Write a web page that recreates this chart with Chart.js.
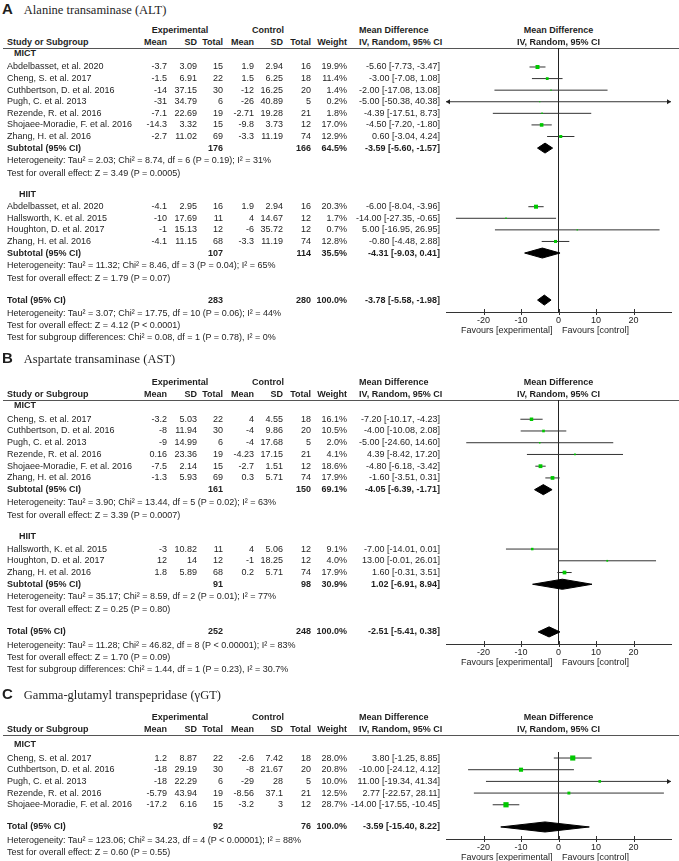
<!DOCTYPE html>
<html>
<head>
<meta charset="utf-8">
<script src="https://cdn.jsdelivr.net/npm/chart.js@4.4.1/dist/chart.umd.min.js"></script>
<style>
html,body{margin:0;padding:0;background:#fff;}
#page{position:relative;width:679px;height:861px;overflow:hidden;font-family:"Liberation Sans",Arial,sans-serif;font-size:9px;color:#1e1e1e;}
.t{position:absolute;white-space:nowrap;line-height:11px;height:11px;}
.r{text-align:right;width:120px;}
.c{text-align:center;width:200px;}
.b{font-weight:bold;}
.hl{position:absolute;left:3px;right:0;height:1px;background:#555;}
.ttl{position:absolute;left:2px;white-space:nowrap;line-height:18px;height:18px;}
.ttl b{font:bold 15px "Liberation Sans",Arial,sans-serif;}
.ttl span{font:12.5px "Liberation Serif","Times New Roman",serif;margin-left:11px;}
canvas{position:absolute;}
</style>
</head>
<body>
<div id="page"></div>
<script>
// ---------- A: ALT ----------
const altGroups = ["MICT", "HIIT"];
const altGroupOf = [0, 0, 0, 0, 0, 0, 0, 1, 1, 1, 1];
const altStudies = ["Abdelbasset, et al. 2020", "Cheng, S. et al. 2017", "Cuthbertson, D. et al. 2016", "Pugh, C. et al. 2013", "Rezende, R. et al. 2016", "Shojaee-Moradie, F. et al. 2016", "Zhang, H. et al. 2016",
  "Abdelbasset, et al. 2020", "Hallsworth, K. et al. 2015", "Houghton, D. et al. 2017", "Zhang, H. et al. 2016"];
const altExpMean = [-3.7, -1.5, -14, -31, -7.1, -14.3, -2.7, -4.1, -10, -1, -4.1];
const altExpSD = [3.09, 6.91, 37.15, 34.79, 22.69, 3.32, 11.02, 2.95, 17.69, 15.13, 11.15];
const altExpN = [15, 22, 30, 6, 19, 15, 69, 16, 11, 12, 68];
const altCtlMean = [1.9, 1.5, -12, -26, -2.71, -9.8, -3.3, 1.9, 4, -6, -3.3];
const altCtlSD = [2.94, 6.25, 16.25, 40.89, 19.28, 3.73, 11.19, 2.94, 14.67, 35.72, 11.19];
const altCtlN = [16, 18, 20, 5, 21, 12, 74, 16, 12, 12, 74];
const altWeight = [19.9, 11.4, 1.4, 0.2, 1.8, 17.0, 12.9, 20.3, 1.7, 0.7, 12.8];
const altMD = [-5.60, -3.00, -2.00, -5.00, -4.39, -4.50, 0.60, -6.00, -14.00, 5.00, -0.80];
const altLow = [-7.73, -7.08, -17.08, -50.38, -17.51, -7.20, -3.04, -8.04, -27.35, -16.95, -4.48];
const altHigh = [-3.47, 1.08, 13.08, 40.38, 8.73, -1.80, 4.24, -3.96, -0.65, 26.95, 2.88];
const altSubExpN = [176, 107];
const altSubCtlN = [166, 114];
const altSubWeight = [64.5, 35.5];
const altSubMD = [-3.59, -4.31];
const altSubLow = [-5.60, -9.03];
const altSubHigh = [-1.57, 0.41];
const altSubHet = ["Heterogeneity: Tau² = 2.03; Chi² = 8.74, df = 6 (P = 0.19); I² = 31%", "Heterogeneity: Tau² = 11.32; Chi² = 8.46, df = 3 (P = 0.04); I² = 65%"];
const altSubTest = ["Test for overall effect: Z = 3.49 (P = 0.0005)", "Test for overall effect: Z = 1.79 (P = 0.07)"];
const altTotal = [283, 280, 100.0];
const altTotalCI = [-3.78, -5.58, -1.98];
const altTotalNotes = ["Heterogeneity: Tau² = 3.07; Chi² = 17.75, df = 10 (P = 0.06); I² = 44%", "Test for overall effect: Z = 4.12 (P < 0.0001)", "Test for subgroup differences: Chi² = 0.08, df = 1 (P = 0.78), I² = 0%"];

// ---------- B: AST ----------
const astGroups = ["MICT", "HIIT"];
const astGroupOf = [0, 0, 0, 0, 0, 0, 1, 1, 1];
const astStudies = ["Cheng, S. et al. 2017", "Cuthbertson, D. et al. 2016", "Pugh, C. et al. 2013", "Rezende, R. et al. 2016", "Shojaee-Moradie, F. et al. 2016", "Zhang, H. et al. 2016",
  "Hallsworth, K. et al. 2015", "Houghton, D. et al. 2017", "Zhang, H. et al. 2016"];
const astExpMean = [-3.2, -8, -9, 0.16, -7.5, -1.3, -3, 12, 1.8];
const astExpSD = [5.03, 11.94, 14.99, 23.36, 2.14, 5.93, 10.82, 14, 5.89];
const astExpN = [22, 30, 6, 19, 15, 69, 11, 12, 68];
const astCtlMean = [4, -4, -4, -4.23, -2.7, 0.3, 4, -1, 0.2];
const astCtlSD = [4.55, 9.86, 17.68, 17.15, 1.51, 5.71, 5.06, 18.25, 5.71];
const astCtlN = [18, 20, 5, 21, 12, 74, 12, 12, 74];
const astWeight = [16.1, 10.5, 2.0, 4.1, 18.6, 17.9, 9.1, 4.0, 17.9];
const astMD = [-7.20, -4.00, -5.00, 4.39, -4.80, -1.60, -7.00, 13.00, 1.60];
const astLow = [-10.17, -10.08, -24.60, -8.42, -6.18, -3.51, -14.01, -0.01, -0.31];
const astHigh = [-4.23, 2.08, 14.60, 17.20, -3.42, 0.31, 0.01, 26.01, 3.51];
const astSubExpN = [161, 91];
const astSubCtlN = [150, 98];
const astSubWeight = [69.1, 30.9];
const astSubMD = [-4.05, 1.02];
const astSubLow = [-6.39, -6.91];
const astSubHigh = [-1.71, 8.94];
const astSubHet = ["Heterogeneity: Tau² = 3.90; Chi² = 13.44, df = 5 (P = 0.02); I² = 63%", "Heterogeneity: Tau² = 35.17; Chi² = 8.59, df = 2 (P = 0.01); I² = 77%"];
const astSubTest = ["Test for overall effect: Z = 3.39 (P = 0.0007)", "Test for overall effect: Z = 0.25 (P = 0.80)"];
const astTotal = [252, 248, 100.0];
const astTotalCI = [-2.51, -5.41, 0.38];
const astTotalNotes = ["Heterogeneity: Tau² = 11.28; Chi² = 46.82, df = 8 (P < 0.00001); I² = 83%", "Test for overall effect: Z = 1.70 (P = 0.09)", "Test for subgroup differences: Chi² = 1.44, df = 1 (P = 0.23), I² = 30.7%"];

// ---------- C: gamma GT ----------
const ggtGroups = ["MICT"];
const ggtGroupOf = [0, 0, 0, 0, 0];
const ggtStudies = ["Cheng, S. et al. 2017", "Cuthbertson, D. et al. 2016", "Pugh, C. et al. 2013", "Rezende, R. et al. 2016", "Shojaee-Moradie, F. et al. 2016"];
const ggtExpMean = [1.2, -18, -18, -5.79, -17.2];
const ggtExpSD = [8.87, 29.19, 22.29, 43.94, 6.16];
const ggtExpN = [22, 30, 6, 19, 15];
const ggtCtlMean = [-2.6, -8, -29, -8.56, -3.2];
const ggtCtlSD = [7.42, 21.67, 28, 37.1, 3];
const ggtCtlN = [18, 20, 5, 21, 12];
const ggtWeight = [28.0, 20.8, 10.0, 12.5, 28.7];
const ggtMD = [3.80, -10.00, 11.00, 2.77, -14.00];
const ggtLow = [-1.25, -24.12, -19.34, -22.57, -17.55];
const ggtHigh = [8.85, 4.12, 41.34, 28.11, -10.45];
const ggtTotal = [92, 76, 100.0];
const ggtTotalCI = [-3.59, -15.40, 8.22];
const ggtTotalNotes = ["Heterogeneity: Tau² = 123.06; Chi² = 34.23, df = 4 (P < 0.00001); I² = 88%", "Test for overall effect: Z = 0.60 (P = 0.55)"];

// axis
const axisRange = [-30, 30];
const axisTicks = [-20, -10, 0, 10, 20];

// ---------- layout ----------
const col = {name: 7, groupR: 36, expMean: 167, expSD: 197, expN: 223, ctlMean: 254, ctlSD: 283, ctlN: 311, weight: 347, ci: 440, mdHead: 359, expHead: 180, ctlHead: 268};
const page = document.getElementById('page');

function text(x, y, str, bold, align) {
  const d = document.createElement('div');
  d.className = 't' + (bold ? ' b' : '') + (align === 'r' ? ' r' : align === 'c' ? ' c' : '');
  d.style.top = (y - 5.5) + 'px';
  d.style.left = (align === 'r' ? x - 120 : align === 'c' ? x - 100 : x) + 'px';
  d.textContent = str;
  page.appendChild(d);
}
const fmtW = w => w.toFixed(1) + '%';
const fmtCI = (m, l, h) => m.toFixed(2) + ' [' + l.toFixed(2) + ', ' + h.toFixed(2) + ']';
const boxSide = w => 1.2 + 0.14 * w;

function layoutRows(cfg) {
  const rows = [];
  let s = cfg.labelSlot;
  cfg.groups.forEach((name, g) => {
    if (g > 0) s += 1.85;
    rows.push({kind: 'group', slot: s, g});
    s += g === 0 ? cfg.firstGap : 1.05;
    let first = true;
    cfg.groupOf.forEach((gg, i) => {
      if (gg !== g) return;
      if (!first) s += 1;
      first = false;
      rows.push({kind: 'study', slot: s, i});
    });
    if (cfg.sub) {
      s += 1; rows.push({kind: 'sub', slot: s, g});
      s += 1.08; rows.push({kind: 'note', slot: s, text: cfg.sub.het[g]});
      s += 1.08; rows.push({kind: 'note', slot: s, text: cfg.sub.test[g]});
    }
  });
  s += 1.9;
  rows.push({kind: 'total', slot: s});
  const axisSlot = s + 1.03;
  cfg.totalNotes.forEach((t, k) => { s += k === 0 ? 1.14 : 1.05; rows.push({kind: 'note', slot: s, text: t}); });
  return {rows, axisSlot};
}

function arrow(ctx, x, y, dir) {
  ctx.beginPath();
  ctx.moveTo(x, y);
  ctx.lineTo(x - dir * 4, y - 2.5);
  ctx.lineTo(x - dir * 4, y + 2.5);
  ctx.closePath();
  ctx.fill();
}

function makePanel(cfg) {
  const {rows, axisSlot} = layoutRows(cfg);
  const studyRows = rows.filter(r => r.kind === 'study');
  const padTop = 3, axisH = 14;
  const plotH = Math.round(axisSlot * cfg.pitch);

  // title + header
  const tt = document.createElement('div');
  tt.className = 'ttl';
  tt.style.top = (cfg.titleY - 9) + 'px';
  tt.innerHTML = '<b>' + cfg.letter + '</b><span>' + cfg.title + '</span>';
  page.appendChild(tt);
  const h1 = cfg.lineY - 17.5, h2 = cfg.lineY - 5.5;
  text(col.expHead, h1, 'Experimental', true, 'c');
  text(col.ctlHead, h1, 'Control', true, 'c');
  text(col.mdHead, h1, 'Mean Difference', true);
  text(col.name, h2, 'Study or Subgroup', true);
  text(col.expMean, h2, 'Mean', true, 'r');
  text(col.expSD, h2, 'SD', true, 'r');
  text(col.expN, h2, 'Total', true, 'r');
  text(col.ctlMean, h2, 'Mean', true, 'r');
  text(col.ctlSD, h2, 'SD', true, 'r');
  text(col.ctlN, h2, 'Total', true, 'r');
  text(col.weight, h2, 'Weight', true, 'r');
  text(col.mdHead, h2, 'IV, Random, 95% CI', true);
  const hl = document.createElement('div');
  hl.className = 'hl';
  hl.style.top = cfg.lineY + 'px';
  page.appendChild(hl);

  // chart
  const canvas = document.createElement('canvas');
  canvas.width = 249;
  canvas.height = padTop + plotH + axisH;
  canvas.style.left = '430px';
  canvas.style.top = (cfg.lineY - padTop) + 'px';
  page.appendChild(canvas);

  const clamp = v => Math.min(axisRange[1], Math.max(axisRange[0], v));
  const ciData = [];
  studyRows.forEach(r => {
    ciData.push({x: clamp(cfg.low[r.i]), y: r.slot}, {x: clamp(cfg.high[r.i]), y: r.slot}, {x: null, y: null});
  });
  const sums = [];
  rows.forEach(r => {
    if (r.kind === 'sub') sums.push([cfg.sub.md[r.g], cfg.sub.low[r.g], cfg.sub.high[r.g], r.slot]);
    if (r.kind === 'total') sums.push([cfg.totalCI[0], cfg.totalCI[1], cfg.totalCI[2], r.slot]);
  });
  const dh = 0.43;
  const datasets = [{
    data: studyRows.map(r => ({x: cfg.md[r.i], y: r.slot, w: cfg.weight[r.i]})),
    pointStyle: 'rect',
    pointRadius: c => boxSide(c.raw.w) / Math.SQRT2,
    backgroundColor: '#00c800',
    borderWidth: 0,
    clip: false
  }];
  sums.forEach(([m, l, h, s]) => {
    datasets.push({
      data: [{x: l, y: s}, {x: m, y: s - dh}, {x: h, y: s}, {x: m, y: s + dh}, {x: l, y: s}],
      showLine: true, fill: 'shape', pointRadius: 0,
      borderColor: '#000', backgroundColor: '#000', borderWidth: 1, clip: false
    });
  });
  datasets.push({
    data: ciData, showLine: true, pointRadius: 0, spanGaps: false,
    borderColor: '#333', borderWidth: 1, clip: false
  });
  const zeroStart = cfg.zeroFromFirst ? studyRows[0].slot - 0.5 : 0;
  datasets.push({
    data: [{x: 0, y: zeroStart}, {x: 0, y: axisSlot}],
    showLine: true, pointRadius: 0, borderColor: '#222', borderWidth: 1, clip: false
  });

  const marks = {
    id: 'marks',
    afterDraw(ch) {
      const ctx = ch.ctx, xs = ch.scales.x, ys = ch.scales.y;
      const ay = ch.chartArea.bottom;
      ctx.save();
      ctx.strokeStyle = '#333';
      ctx.lineWidth = 1;
      xs.ticks.forEach(t => {
        const px = Math.round(xs.getPixelForValue(t.value)) + 0.5;
        ctx.beginPath();
        ctx.moveTo(px, ay - 3);
        ctx.lineTo(px, ay + 3);
        ctx.stroke();
      });
      ctx.fillStyle = '#222';
      studyRows.forEach(r => {
        const py = ys.getPixelForValue(r.slot);
        if (cfg.low[r.i] < axisRange[0]) arrow(ctx, xs.getPixelForValue(axisRange[0]), py, -1);
        if (cfg.high[r.i] > axisRange[1]) arrow(ctx, xs.getPixelForValue(axisRange[1]), py, 1);
      });
      ctx.restore();
    }
  };

  const chart = new Chart(canvas, {
    type: 'scatter',
    data: {datasets},
    options: {
      responsive: false,
      animation: false,
      events: [],
      layout: {padding: {left: 16, right: 8, top: padTop, bottom: 0}, autoPadding: false},
      plugins: {legend: {display: false}, tooltip: {enabled: false}},
      scales: {
        x: {
          type: 'linear', min: axisRange[0], max: axisRange[1],
          afterBuildTicks: sc => { sc.ticks = axisTicks.map(v => ({value: v})); },
          afterFit: sc => { sc.height = axisH; },
          grid: {display: false, drawTicks: false},
          border: {display: true, color: '#333', width: 1},
          ticks: {color: '#222', font: {family: 'Liberation Sans', size: 9}, padding: 3, maxRotation: 0, autoSkip: false}
        },
        y: {type: 'linear', reverse: true, min: 0, max: axisSlot, display: false}
      }
    },
    plugins: [marks]
  });

  const top = cfg.lineY - padTop;
  const Y = s => top + chart.scales.y.getPixelForValue(s);
  const zeroX = 430 + chart.scales.x.getPixelForValue(0);
  const axisY = top + chart.chartArea.bottom;

  text(zeroX, h1, 'Mean Difference', true, 'c');
  text(zeroX, h2, 'IV, Random, 95% CI', true, 'c');
  text(zeroX - 6, axisY + 18.5, 'Favours [experimental]', false, 'r');
  text(zeroX + 3.5, axisY + 18.5, 'Favours [control]', false);

  rows.forEach(r => {
    const y = Y(r.slot);
    if (r.kind === 'group') {
      text(col.groupR, y, cfg.groups[r.g], true, 'r');
    } else if (r.kind === 'study') {
      const i = r.i;
      text(col.name, y, cfg.studies[i]);
      text(col.expMean, y, String(cfg.expMean[i]), false, 'r');
      text(col.expSD, y, String(cfg.expSD[i]), false, 'r');
      text(col.expN, y, String(cfg.expN[i]), false, 'r');
      text(col.ctlMean, y, String(cfg.ctlMean[i]), false, 'r');
      text(col.ctlSD, y, String(cfg.ctlSD[i]), false, 'r');
      text(col.ctlN, y, String(cfg.ctlN[i]), false, 'r');
      text(col.weight, y, fmtW(cfg.weight[i]), false, 'r');
      text(col.ci, y, fmtCI(cfg.md[i], cfg.low[i], cfg.high[i]), false, 'r');
    } else if (r.kind === 'sub') {
      const g = r.g;
      text(col.name, y, 'Subtotal (95% CI)', true);
      text(col.expN, y, String(cfg.sub.expN[g]), true, 'r');
      text(col.ctlN, y, String(cfg.sub.ctlN[g]), true, 'r');
      text(col.weight, y, fmtW(cfg.sub.weight[g]), true, 'r');
      text(col.ci, y, fmtCI(cfg.sub.md[g], cfg.sub.low[g], cfg.sub.high[g]), true, 'r');
    } else if (r.kind === 'total') {
      text(col.name, y, 'Total (95% CI)', true);
      text(col.expN, y, String(cfg.total[0]), true, 'r');
      text(col.ctlN, y, String(cfg.total[1]), true, 'r');
      text(col.weight, y, fmtW(cfg.total[2]), true, 'r');
      text(col.ci, y, fmtCI(cfg.totalCI[0], cfg.totalCI[1], cfg.totalCI[2]), true, 'r');
    } else {
      text(col.name, y, r.text);
    }
  });
}

makePanel({
  letter: 'A', title: 'Alanine transaminase (ALT)', titleY: 9, lineY: 48, pitch: 11.6, labelSlot: 0.47, firstGap: 1.17,
  groups: altGroups, groupOf: altGroupOf, studies: altStudies,
  expMean: altExpMean, expSD: altExpSD, expN: altExpN, ctlMean: altCtlMean, ctlSD: altCtlSD, ctlN: altCtlN,
  weight: altWeight, md: altMD, low: altLow, high: altHigh,
  sub: {expN: altSubExpN, ctlN: altSubCtlN, weight: altSubWeight, md: altSubMD, low: altSubLow, high: altSubHigh, het: altSubHet, test: altSubTest},
  total: altTotal, totalCI: altTotalCI, totalNotes: altTotalNotes
});
makePanel({
  letter: 'B', title: 'Aspartate transaminase (AST)', titleY: 358, lineY: 400, pitch: 11.75, labelSlot: 0.47, firstGap: 1.17,
  groups: astGroups, groupOf: astGroupOf, studies: astStudies,
  expMean: astExpMean, expSD: astExpSD, expN: astExpN, ctlMean: astCtlMean, ctlSD: astCtlSD, ctlN: astCtlN,
  weight: astWeight, md: astMD, low: astLow, high: astHigh,
  sub: {expN: astSubExpN, ctlN: astSubCtlN, weight: astSubWeight, md: astSubMD, low: astSubLow, high: astSubHigh, het: astSubHet, test: astSubTest},
  total: astTotal, totalCI: astTotalCI, totalNotes: astTotalNotes
});
makePanel({
  letter: 'C', title: 'Gamma-glutamyl transpepridase (γGT)', titleY: 694, lineY: 735, pitch: 11.7, labelSlot: 0.85, firstGap: 1.12,
  zeroFromFirst: true,
  groups: ggtGroups, groupOf: ggtGroupOf, studies: ggtStudies,
  expMean: ggtExpMean, expSD: ggtExpSD, expN: ggtExpN, ctlMean: ggtCtlMean, ctlSD: ggtCtlSD, ctlN: ggtCtlN,
  weight: ggtWeight, md: ggtMD, low: ggtLow, high: ggtHigh,
  sub: null,
  total: ggtTotal, totalCI: ggtTotalCI, totalNotes: ggtTotalNotes
});
</script>
</body>
</html>
